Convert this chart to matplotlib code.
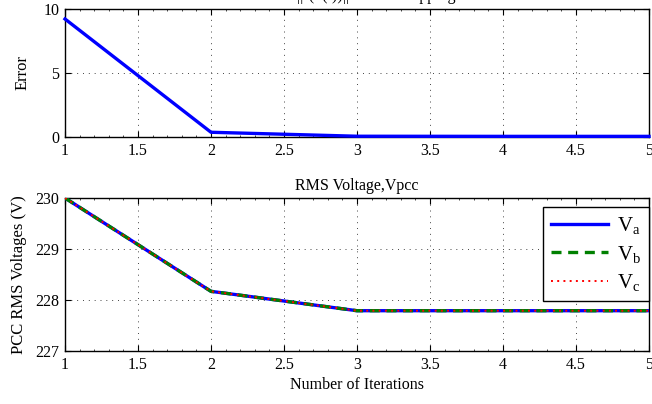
import numpy as np
import matplotlib
matplotlib.use("Agg")
import matplotlib.pyplot as plt
from matplotlib.ticker import MultipleLocator

plt.rcParams["font.family"] = ["Liberation Serif", "DejaVu Serif"]
plt.rcParams["mathtext.fontset"] = "custom"
plt.rcParams["mathtext.rm"] = "Liberation Serif"
plt.rcParams["mathtext.it"] = "Liberation Serif"

iterations = [1, 2, 3, 4, 5]
error = [9.22, 0.37, 0.06, 0.05, 0.05]
v_a = [230.0, 228.17, 227.79, 227.79, 227.79]
v_b = [230.0, 228.17, 227.79, 227.79, 227.79]
v_c = [230.0, 228.17, 227.79, 227.79, 227.79]
x_ticks = [1, 1.5, 2, 2.5, 3, 3.5, 4, 4.5, 5]
x_tick_labels = ["1", "1.5", "2", "2.5", "3", "3.5", "4", "4.5", "5"]


def style(ax):
    ax.set_xlim(1, 5)
    ax.set_xticks(x_ticks)
    ax.set_xticklabels(x_tick_labels)
    ax.xaxis.set_minor_locator(MultipleLocator(0.1))
    ax.tick_params(which="both", direction="in", top=True, right=True,
                   labelsize=11.5, pad=4)
    ax.tick_params(which="major", length=4, width=0.8)
    ax.tick_params(which="minor", length=1.5, width=0.5)
    ax.grid(True, which="major", linestyle=(0, (1, 5)), color="#444444",
            linewidth=0.7)
    for s in ax.spines.values():
        s.set_linewidth(1.0)


fig = plt.figure(figsize=(6.52, 4.04), dpi=100)
W, H = 652, 404
ax1 = fig.add_axes([65 / W, 1 - 137 / H, 584 / W, 128 / H])
ax2 = fig.add_axes([65 / W, 1 - 351 / H, 584 / W, 153 / H])

ax1.plot(iterations, error, color="blue", linewidth=2.4, clip_on=False, zorder=3)
ax1.set_ylim(0, 10)
ax1.set_yticks([0, 5, 10])
style(ax1)
ax1.set_ylabel("Error", fontsize=12, labelpad=9)
# title sits mostly above the figure edge, as in the reference
fig.text(357 / W, 1 + 12 / H, "Error ||f(x(i))|| at each stepping",
         ha="center", va="top", fontsize=11.5)

ax2.plot(iterations, v_a, color="blue", linewidth=2.4, label=r"V$_\mathrm{a}$",
         zorder=3)
ax2.plot(iterations, v_b, color=(0, 0.5, 0), linewidth=2.4, linestyle=(0, (3, 2)),
         label=r"V$_\mathrm{b}$", zorder=4)
ax2.plot(iterations, v_c, color="red", linewidth=1.4, linestyle=(0, (1, 2.2)),
         label=r"V$_\mathrm{c}$", zorder=5)
ax2.set_ylim(227, 230)
ax2.set_yticks([227, 228, 229, 230])
style(ax2)
ax2.set_ylabel("PCC RMS Voltages (V)", fontsize=12, labelpad=6)
ax2.set_xlabel("Number of Iterations", fontsize=11.5, labelpad=3)
ax2.set_title("RMS Voltage,Vpcc", fontsize=11.5, pad=6)

leg = ax2.legend(loc="upper right", bbox_to_anchor=(1.0, 1 - 9 / 153),
                 borderaxespad=0, fontsize=15,
                 handlelength=2.75, handletextpad=0.4, labelspacing=0.35,
                 borderpad=0.4, fancybox=False, framealpha=1)
leg.get_frame().set_edgecolor("black")
leg.get_frame().set_linewidth(1.0)

fig.savefig("out.png", dpi=100)
